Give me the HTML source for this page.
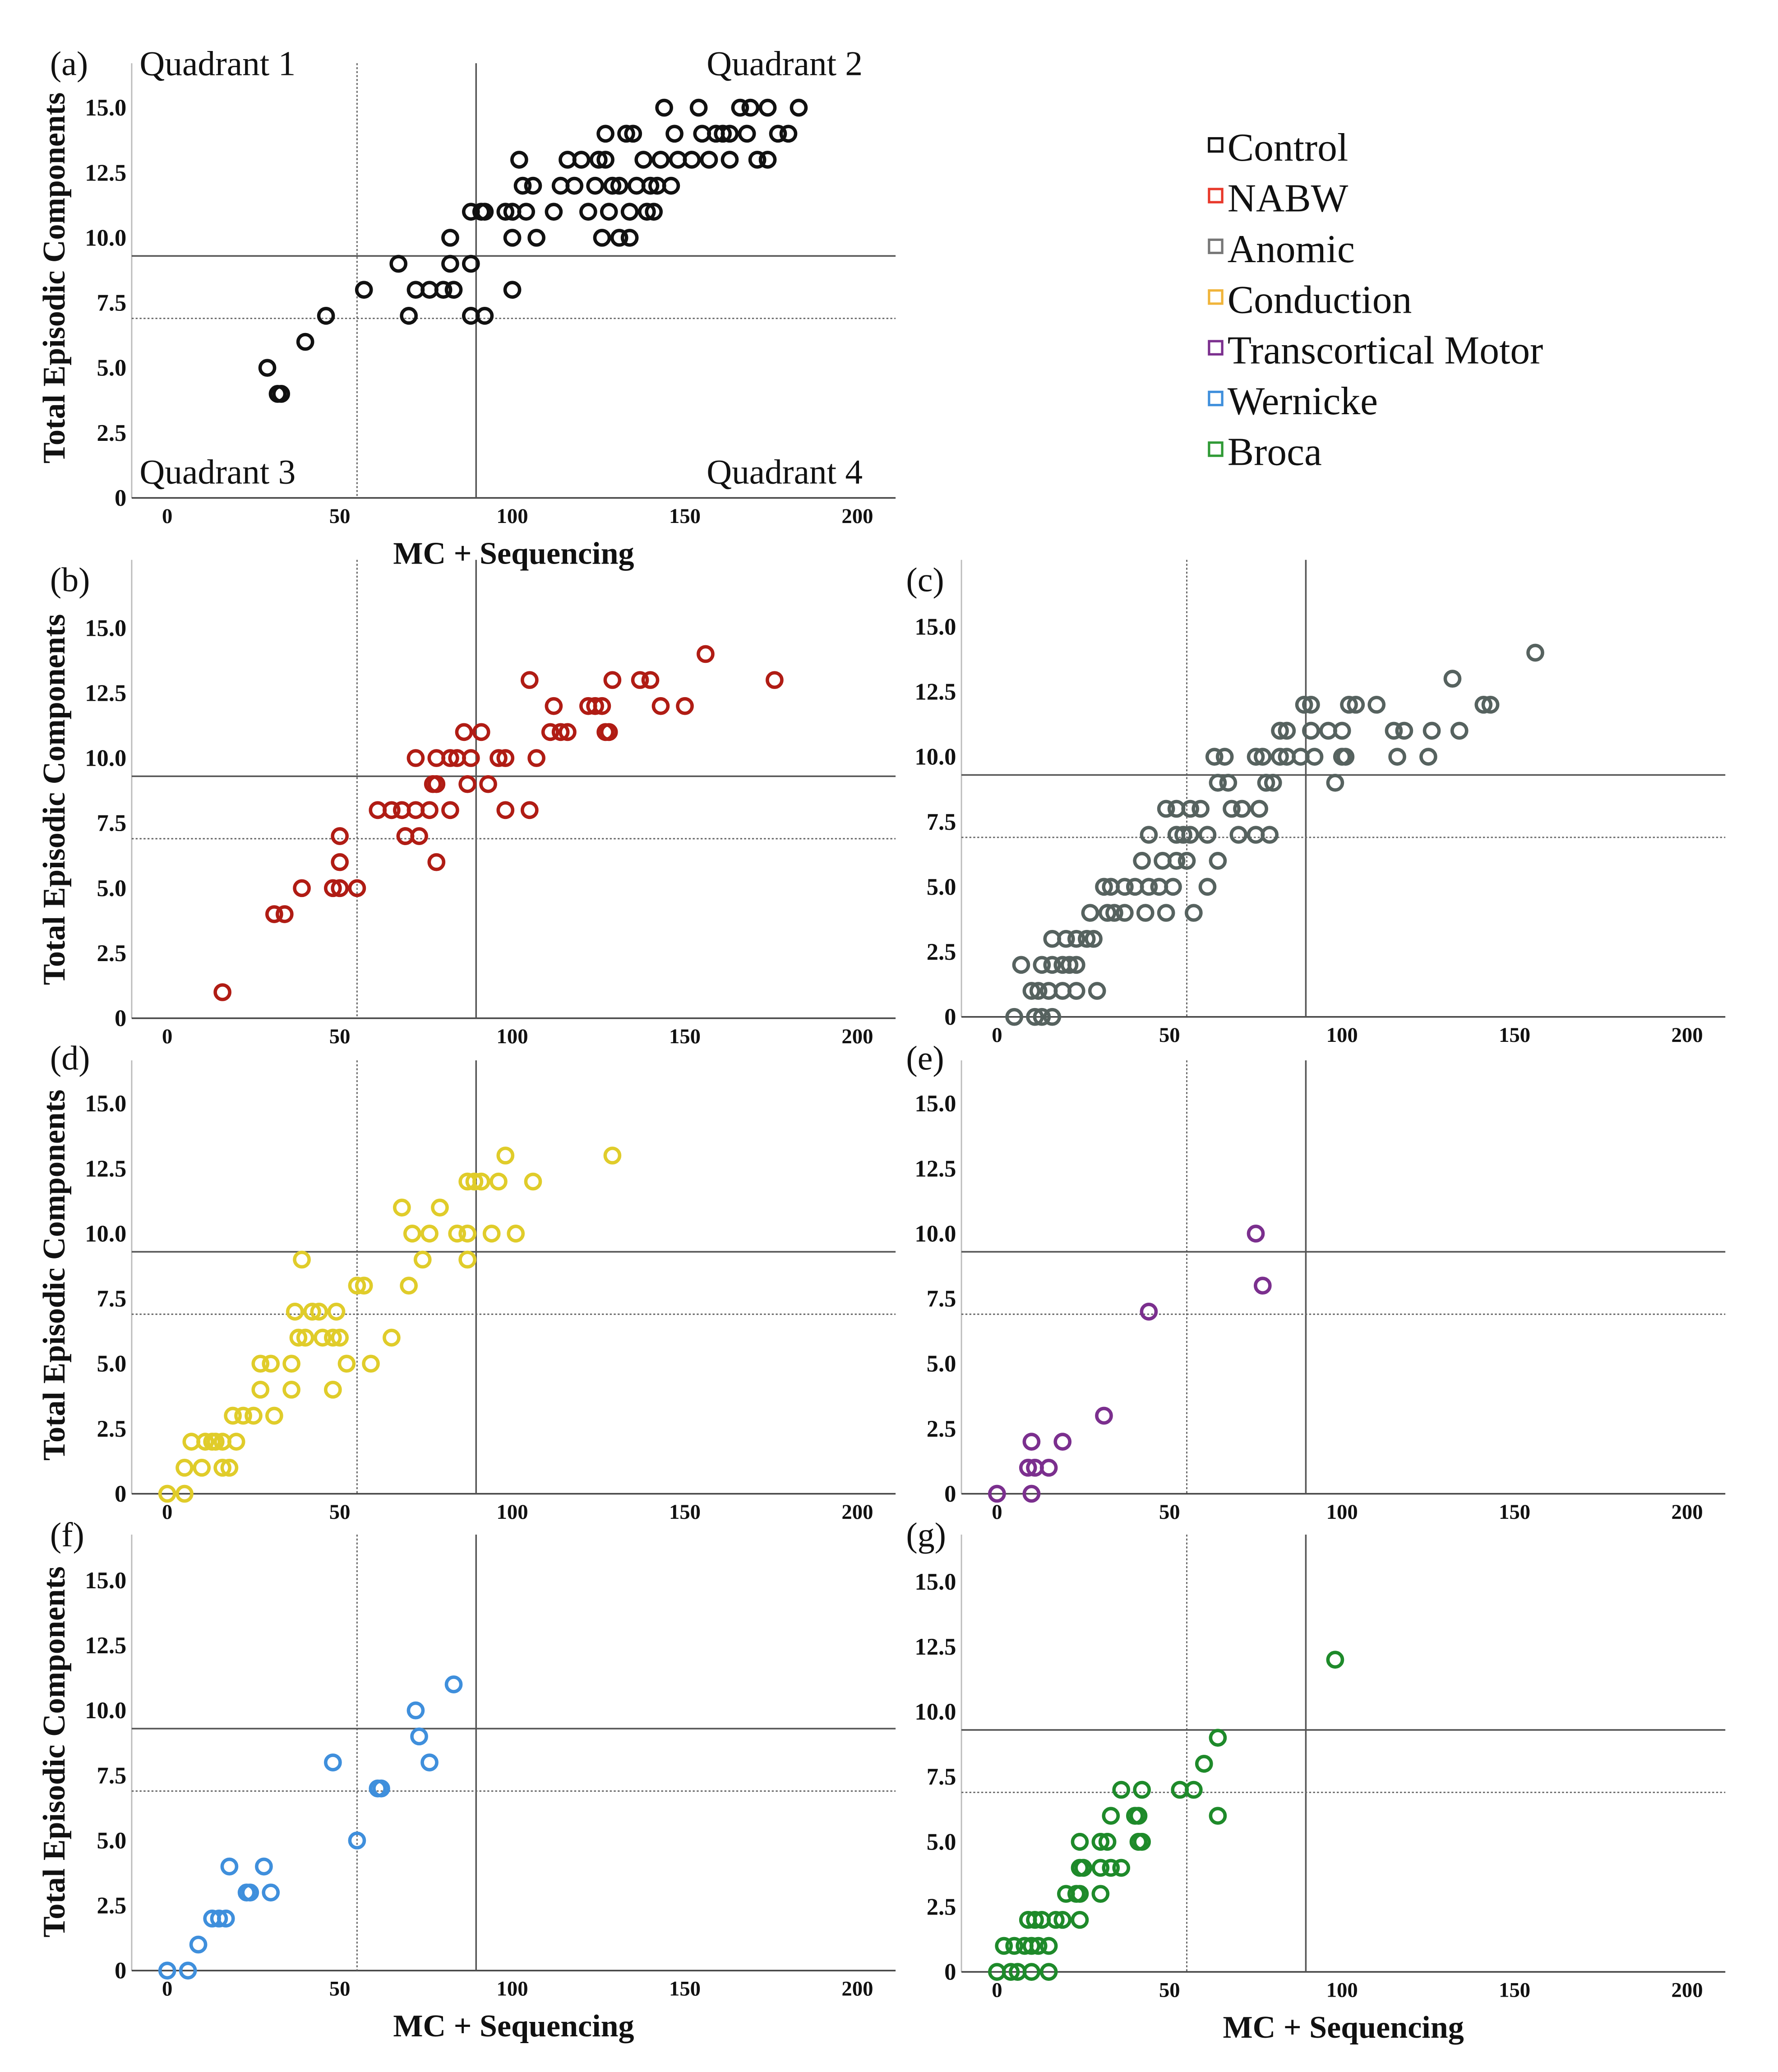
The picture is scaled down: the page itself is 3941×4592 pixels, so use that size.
<!DOCTYPE html>
<html><head><meta charset="utf-8">
<style>
html,body{margin:0;padding:0;background:#fff;}
svg{display:block;font-family:"Liberation Serif",serif;}
</style></head>
<body>
<svg id="chart" width="3941" height="4592" viewBox="0 0 1350 1573" xmlns="http://www.w3.org/2000/svg">
<rect x="0" y="0" width="1350" height="1573" fill="#fff"/>
<g id="legend"></g>
</svg>
<script>
// ---- data (x = MC + Sequencing, y = Total Episodic Components) ----
const controlX=[29,32,33,40,46,57,67,70,72,76,80,82,82,83,88,88,92,88,91,92,98,100,100,102,103,104,106,107,100,112,114,116,118,120,122,124,125,126,127,128,129,131,133,134,134,135,136,138,139,140,141,143,144,147,146,148,154,155,157,159,161,163,166,168,169,171,174,174,177,180,183,127,131,142,152,163];
const controlY=[5,4,4,6,7,8,9,7,8,8,8,9,10,8,9,7,7,11,11,11,11,10,8,13,12,11,12,10,11,11,12,13,12,13,11,12,13,10,14,11,12,10,14,10,11,14,12,13,11,12,11,13,15,14,12,13,15,14,13,14,14,13,15,14,15,13,13,15,14,14,15,13,12,12,13,14];
const nabwX=[16,31,34,39,48,50,50,50,55,61,65,68,69,69,72,73,72,76,77,78,78,78,82,82,84,86,88,87,91,93,96,98,98,105,105,107,111,112,114,116,122,124,126,127,128,129,137,140,143,150,156,176];
const nabwY=[1,4,4,5,5,5,6,7,5,8,8,8,7,7,8,7,10,8,9,9,10,6,8,10,10,11,10,9,11,9,10,10,8,8,13,10,11,12,11,11,12,12,12,11,11,13,13,13,12,12,14,13];
const anomicX=[5,11,13,16,10,12,15,19,23,29,7,13,16,19,21,23,16,20,23,26,28,27,32,34,37,43,49,57,31,33,37,40,44,47,51,61,42,48,52,55,64,44,52,54,56,61,70,75,79,49,52,56,59,68,71,76,64,67,78,80,98,63,66,75,77,82,84,88,92,100,101,116,125,82,84,91,96,100,115,118,126,134,89,91,102,104,110,141,143,132,156];
const anomicY=[0,0,0,0,1,1,1,1,1,1,2,2,2,2,2,2,3,3,3,3,3,4,4,4,4,4,4,4,5,5,5,5,5,5,5,5,6,6,6,6,6,7,7,7,7,7,7,7,7,8,8,8,8,8,8,8,9,9,9,9,9,10,10,10,10,10,10,10,10,10,10,10,10,11,11,11,11,11,11,11,11,11,12,12,12,12,12,12,12,13,14];
const conductionX=[0,5,5,10,16,18,7,11,13,14,16,20,19,22,25,31,27,36,48,27,30,36,52,59,38,40,45,48,50,65,37,42,44,49,55,57,70,39,74,87,71,76,84,87,94,101,68,79,87,89,91,96,106,98,129];
const conductionY=[0,0,1,1,1,1,2,2,2,2,2,2,3,3,3,3,4,4,4,5,5,5,5,5,6,6,6,6,6,6,7,7,7,7,8,8,8,9,9,9,10,10,10,10,10,10,11,11,12,12,12,12,12,13,13];
const tcmX=[0,10,9,11,15,10,19,31,44,77,75];
const tcmY=[0,0,1,1,1,2,2,3,7,8,10];
const wernickeX=[0,6,9,13,15,17,18,23,24,28,30,48,55,61,62,72,73,76,83];
const wernickeY=[0,0,1,2,2,2,4,3,3,4,3,8,5,7,7,10,9,8,11];
const brocaX=[0,4,6,10,15,2,5,8,10,12,15,9,11,13,17,19,24,20,23,24,30,24,25,30,33,36,24,30,32,41,42,33,40,41,64,36,42,53,57,60,64,98];
const brocaY=[0,0,0,0,0,1,1,1,1,1,1,2,2,2,2,2,2,3,3,3,3,4,4,4,4,4,5,5,5,5,5,6,6,6,6,7,7,7,7,8,9,12];
const xTicks=[0,50,100,150,200];
const yTicks=[0,2.5,5,7.5,10,12.5,15];
const yTickLabels=["0","2.5","5.0","7.5","10.0","12.5","15.0"];
const refV=[55,89.5];   // dotted, solid
const refH=[6.9,9.3];   // dotted, solid
const legendNames=["Control","NABW","Anomic","Conduction","Transcortical Motor","Wernicke","Broca"];
const legendColors=["#111111","#e8382a","#777777","#f0b43a","#7b2f8e","#3f8fdc","#2f9a35"];

const NS="http://www.w3.org/2000/svg";
const svg=document.getElementById('chart');
function mk(tag,attrs,parent){const e=document.createElementNS(NS,tag);for(const k in attrs)e.setAttribute(k,attrs[k]);(parent||svg).appendChild(e);return e;}

const panels=[
 {id:'a',x0:127,y0:378,top:48,left:100,right:680,X:controlX,Y:controlY,c:'#111111',ytitle:211,xtitle:true,lx:38,ly:57},
 {id:'b',x0:127,y0:773,top:425,left:100,right:680,X:nabwX,Y:nabwY,c:'#b01c14',ytitle:607,lx:38,ly:449},
 {id:'c',x0:757,y0:772,top:425,left:730,right:1310,X:anomicX,Y:anomicY,c:'#56625f',lx:688,ly:449},
 {id:'d',x0:127,y0:1134,top:805,left:100,right:680,X:conductionX,Y:conductionY,c:'#e0cc2a',ytitle:968,lx:38,ly:812},
 {id:'e',x0:757,y0:1134,top:805,left:730,right:1310,X:tcmX,Y:tcmY,c:'#7b2f8e',lx:688,ly:812},
 {id:'f',x0:127,y0:1496,top:1165,left:100,right:680,X:wernickeX,Y:wernickeY,c:'#3f8fdc',ytitle:1330,xtitle:true,lx:38,ly:1174},
 {id:'g',x0:757,y0:1497,top:1165,left:730,right:1310,X:brocaX,Y:brocaY,c:'#1e8a2a',xtitle:true,lx:688,ly:1174}
];
const XS=2.62, YS=19.75;
panels.forEach(p=>{
  const g=mk('g',{});
  
  
  const sx=v=>p.x0+v*XS, sy=v=>p.y0-v*YS;
  let e;
  e=mk('line',{x1:p.left,y1:p.top,x2:p.left,y2:p.y0,stroke:'#bbb','stroke-width':1},g);
  
  e=mk('line',{x1:p.left,y1:p.y0,x2:p.right,y2:p.y0,stroke:'#444','stroke-width':1.2},g);
  
  e=mk('line',{x1:sx(refV[0]),y1:p.top,x2:sx(refV[0]),y2:p.y0,stroke:'#666','stroke-width':1,'stroke-dasharray':'1.5 1.5'},g);
  
  e=mk('line',{x1:sx(refV[1]),y1:p.top,x2:sx(refV[1]),y2:p.y0,stroke:'#555','stroke-width':1.2},g);
  
  e=mk('line',{x1:p.left,y1:sy(refH[0]),x2:p.right,y2:sy(refH[0]),stroke:'#666','stroke-width':1,'stroke-dasharray':'1.5 1.5'},g);
  
  e=mk('line',{x1:p.left,y1:sy(refH[1]),x2:p.right,y2:sy(refH[1]),stroke:'#555','stroke-width':1.2},g);
  
  xTicks.forEach(t=>{
    const e=mk('text',{x:sx(t),y:p.y0+19,'text-anchor':'middle','font-size':16,'font-weight':'bold',fill:'#111'},g);
    
    e.textContent=t;
  });
  yTicks.forEach((t,i)=>{
    const e=mk('text',{x:p.left-4,y:sy(t)+6,'text-anchor':'end','font-size':18,'font-weight':'bold',fill:'#111'},g);
    
    e.textContent=yTickLabels[i];
  });
  e=mk('text',{x:p.lx,y:p.ly,'font-size':26,fill:'#111'},g);
  
  e.textContent='('+p.id+')';
  if(p.ytitle){
    e=mk('text',{x:0,y:0,transform:`translate(49,${p.ytitle}) rotate(-90)`,'text-anchor':'middle','font-size':24,'font-weight':'bold',fill:'#111'},g);
    
    e.textContent='Total Episodic Components';
  }
  if(p.xtitle){
    e=mk('text',{x:(p.left+p.right)/2,y:p.y0+50,'text-anchor':'middle','font-size':24,'font-weight':'bold',fill:'#111'},g);
    
    e.textContent='MC + Sequencing';
  }
  p.X.forEach((xv,i)=>{
    const c=mk('circle',{cx:sx(xv),cy:sy(p.Y[i]),r:5.5,fill:'none',stroke:p.c,'stroke-width':2.6},g);
    
    
  });
});
// quadrant labels
[['Quadrant 1',106,57,'start'],['Quadrant 2',655,57,'end'],['Quadrant 3',106,367,'start'],['Quadrant 4',655,367,'end']].forEach(q=>{
  const e=mk('text',{x:q[1],y:q[2],'text-anchor':q[3],'font-size':26.5,fill:'#111'});
  
  
  e.textContent=q[0];
});
// legend
const lg=document.getElementById('legend');
legendNames.forEach((n,i)=>{
  const y=112+i*38.5;
  const r=mk('rect',{x:918,y:y-7,width:10,height:10,fill:'none',stroke:legendColors[i],'stroke-width':1.8},lg);
  
  
  const t=mk('text',{x:932,y:y+10,'font-size':30,fill:'#111'},lg);
  
  
  t.textContent=n;
});
</script>
</body></html>
